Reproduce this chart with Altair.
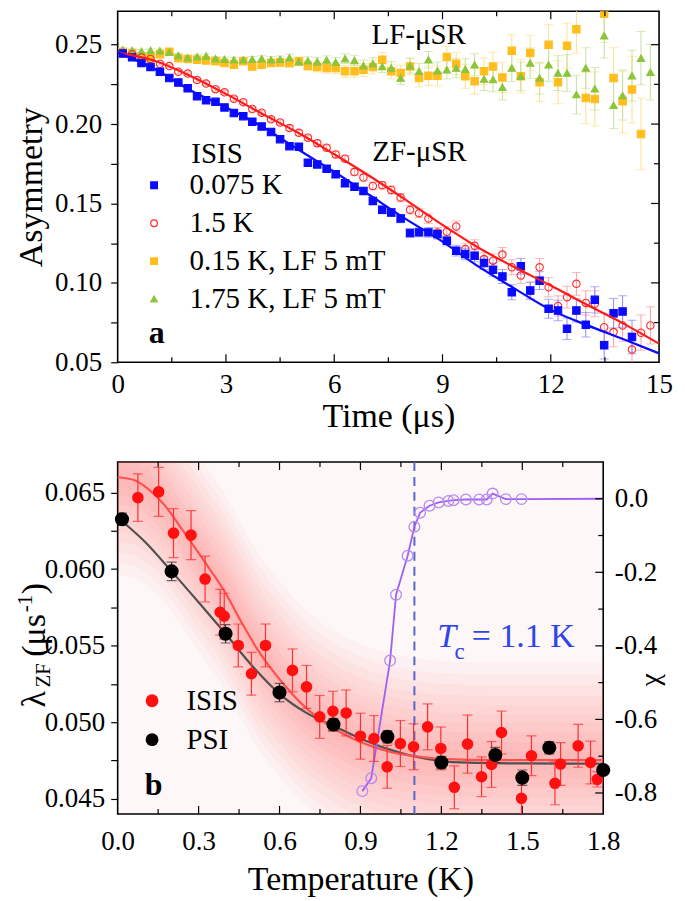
import altair as alt
import pandas as pd

FONT = "Liberation Serif"

# ================= Panel a : asymmetry spectra =================
time_us = [0.14, 0.40, 0.66, 0.91, 1.17, 1.43, 1.68, 1.94, 2.20, 2.45, 2.71, 2.96, 3.22, 3.48, 3.73,
           3.99, 4.25, 4.50, 4.76, 5.02, 5.27, 5.53, 5.79, 6.04, 6.30, 6.56, 6.81, 7.07, 7.33, 7.58,
           7.84, 8.10, 8.35, 8.61, 8.86, 9.12, 9.38, 9.63, 9.89, 10.15, 10.40, 10.66, 10.92, 11.17,
           11.43, 11.69, 11.94, 12.20, 12.45, 12.71, 12.97, 13.22, 13.48, 13.74, 13.99, 14.25, 14.50, 14.76]

asym_0075K = [0.2445, 0.2420, 0.2385, 0.2360, 0.2330, 0.2290, 0.2262, 0.2225, 0.2175, 0.2150, 0.2140,
              0.2105, 0.2070, 0.2050, 0.2015, 0.1985, 0.1950, 0.1905, 0.1861, 0.1857, 0.1757, 0.1746,
              0.1719, 0.1684, 0.1627, 0.1606, 0.1579, 0.1516, 0.1460, 0.1443, 0.1405, 0.1314, 0.1318,
              0.1318, 0.1307, 0.1265, 0.1203, 0.1182, 0.1171, 0.1125, 0.1083, 0.1040, 0.0941, 0.1104,
              0.0952, 0.1014, 0.0837, 0.0826, 0.0711, 0.0826, 0.0736, 0.0893, 0.0607, 0.0809, 0.0820, 0.0659]
err_0075K = [0.0008, 0.0008, 0.0009, 0.0009, 0.0009, 0.0010, 0.0010, 0.0010, 0.0011, 0.0011,
             0.0012, 0.0012, 0.0013, 0.0013, 0.0014, 0.0014, 0.0015, 0.0015, 0.0016, 0.0017,
             0.0017, 0.0018, 0.0019, 0.0020, 0.0020, 0.0021, 0.0022, 0.0023, 0.0024, 0.0025,
             0.0026, 0.0027, 0.0028, 0.0030, 0.0031, 0.0032, 0.0034, 0.0036, 0.0038, 0.0040,
             0.0042, 0.0044, 0.0047, 0.0050, 0.0053, 0.0056, 0.0060, 0.0064, 0.0068, 0.0072,
             0.0077, 0.0082, 0.0087, 0.0093, 0.0099, 0.0105]

asym_15K = [0.2445, 0.2440, 0.2420, 0.2410, 0.2380, 0.2365, 0.2330, 0.2318, 0.2278, 0.2255, 0.2220,
            0.2200, 0.2160, 0.2138, 0.2095, 0.2072, 0.2030, 0.2010, 0.1975, 0.1945, 0.1914, 0.1880,
            0.1851, 0.1809, 0.1782, 0.1698, 0.1663, 0.1610, 0.1615, 0.1585, 0.1537, 0.1460, 0.1439,
            0.1405, 0.1317, 0.1322, 0.1355, 0.1213, 0.1234, 0.1150, 0.1140, 0.1178, 0.1098, 0.1046,
            0.0950, 0.1098, 0.0972, 0.0855, 0.0910, 0.0994, 0.0874, 0.0868, 0.0721, 0.0690, 0.0732,
            0.0580, 0.0686, 0.0732]
err_15K = [0.0008, 0.0008, 0.0009, 0.0009, 0.0009, 0.0010, 0.0010, 0.0010, 0.0011, 0.0011,
           0.0012, 0.0012, 0.0013, 0.0013, 0.0014, 0.0014, 0.0015, 0.0015, 0.0016, 0.0017,
           0.0017, 0.0018, 0.0019, 0.0020, 0.0020, 0.0021, 0.0022, 0.0023, 0.0024, 0.0025,
           0.0026, 0.0027, 0.0028, 0.0030, 0.0031, 0.0032, 0.0034, 0.0036, 0.0038, 0.0040,
           0.0042, 0.0044, 0.0047, 0.0050, 0.0053, 0.0056, 0.0060, 0.0064, 0.0068, 0.0072,
           0.0077, 0.0082, 0.0087, 0.0093, 0.0099, 0.0105, 0.0111, 0.0117]

asym_015K_LF = [0.2455, 0.2446, 0.2425, 0.2415, 0.2440, 0.2455, 0.2415, 0.2410, 0.2405, 0.2400,
                0.2395, 0.2384, 0.2374, 0.2395, 0.2363, 0.2374, 0.2384, 0.2388, 0.2384, 0.2395,
                0.2368, 0.2359, 0.2353, 0.2353, 0.2332, 0.2332, 0.2342, 0.2359, 0.2405, 0.2332,
                0.2321, 0.2363, 0.2290, 0.2305, 0.2305, 0.2422, 0.2380, 0.2301, 0.2269, 0.2332,
                0.2363, 0.2294, 0.2462, 0.2301, 0.2447, 0.2263, 0.2499, 0.2263, 0.2493, 0.2597,
                0.2164, 0.2158, 0.2694, 0.2290, 0.2144, 0.2217, 0.1938]
err_015K_LF = [0.0012, 0.0012, 0.0013, 0.0013, 0.0014, 0.0014, 0.0015, 0.0015, 0.0016, 0.0016,
               0.0017, 0.0018, 0.0019, 0.0020, 0.0021, 0.0022, 0.0023, 0.0024, 0.0026, 0.0028,
               0.0030, 0.0031, 0.0033, 0.0035, 0.0037, 0.0039, 0.0041, 0.0043, 0.0045, 0.0047,
               0.0050, 0.0053, 0.0056, 0.0060, 0.0063, 0.0067, 0.0070, 0.0075, 0.0080, 0.0085,
               0.0090, 0.0095, 0.0100, 0.0106, 0.0112, 0.0120, 0.0127, 0.0135, 0.0142, 0.0150,
               0.0160, 0.0170, 0.0180, 0.0190, 0.0200, 0.0210, 0.0225]

asym_175K_LF = [0.2468, 0.2464, 0.2458, 0.2464, 0.2462, 0.2452, 0.2432, 0.2418, 0.2424, 0.2428,
                0.2412, 0.2408, 0.2405, 0.2405, 0.2408, 0.2412, 0.2405, 0.2408, 0.2418, 0.2393,
                0.2399, 0.2393, 0.2403, 0.2389, 0.2412, 0.2401, 0.2368, 0.2380, 0.2363, 0.2353,
                0.2290, 0.2368, 0.2332, 0.2405, 0.2336, 0.2342, 0.2353, 0.2346, 0.2374, 0.2284,
                0.2280, 0.2232, 0.2353, 0.2301, 0.2384, 0.2290, 0.2374, 0.2321, 0.2321, 0.2186,
                0.2353, 0.2222, 0.2556, 0.2119, 0.2180, 0.2305, 0.2415, 0.2326]
err_175K_LF = [0.0010, 0.0010, 0.0011, 0.0011, 0.0011, 0.0012, 0.0012, 0.0013, 0.0013, 0.0014,
               0.0014, 0.0015, 0.0016, 0.0017, 0.0018, 0.0019, 0.0020, 0.0021, 0.0022, 0.0023,
               0.0025, 0.0026, 0.0028, 0.0030, 0.0031, 0.0033, 0.0035, 0.0037, 0.0039, 0.0041,
               0.0043, 0.0046, 0.0049, 0.0052, 0.0055, 0.0058, 0.0061, 0.0065, 0.0069, 0.0073,
               0.0077, 0.0081, 0.0085, 0.0090, 0.0095, 0.0100, 0.0105, 0.0110, 0.0116, 0.0122,
               0.0128, 0.0134, 0.0140, 0.0147, 0.0154, 0.0160, 0.0168, 0.0175]

fit_time = [0, 1, 2, 3, 4, 5, 6, 7, 8, 9, 10, 11, 12, 13, 14, 15]
fit_0075K = [0.245, 0.235, 0.2215, 0.2105, 0.1985, 0.184, 0.170, 0.155, 0.140, 0.126, 0.1102, 0.0964,
             0.083, 0.0734, 0.0646, 0.0556]
fit_15K = [0.245, 0.240, 0.2305, 0.219, 0.2065, 0.1945, 0.181, 0.167, 0.152, 0.1365, 0.1221, 0.1098,
           0.0983, 0.0862, 0.0745, 0.0617]

series_a = ["0.075 K", "1.5 K", "0.15 K, LF 5 mT", "1.75 K, LF 5 mT"]
stroke_a = ["#0a0aff", "#ff2a2a", "#ffbe1e", "#8cc43a"]
fill_a = ["#0a0aff", "transparent", "#ffbe1e", "#8cc43a"]
shape_a = ["square", "circle", "square", "triangle-up"]
bar_a = ["#8a8aff", "#ff9c9c", "#ffdf8a", "#c4e29a"]

ann_a_text = ["LF-μSR", "ZF-μSR"]
ann_a_t = [8.34, 8.36]
ann_a_v = [0.2506, 0.1770]
isis_a_label = ["ISIS"]
isis_a_t = [2.04]
isis_a_v = [0.1757]
panel_a_label = ["a"]
panel_a_t = [1.08]
panel_a_v = [0.0619]

# ================= Panel b : relaxation rate & susceptibility =================
isis_T = [0.075, 0.152, 0.207, 0.272, 0.324, 0.380, 0.395, 0.447, 0.496, 0.548, 0.648, 0.700, 0.749,
          0.798, 0.847, 0.900, 0.950, 0.999, 1.048, 1.097, 1.149, 1.198, 1.248, 1.297, 1.349, 1.386,
          1.423, 1.497, 1.534, 1.621, 1.642, 1.707, 1.753, 1.778]
isis_lam = [0.06467, 0.06505, 0.06235, 0.06222, 0.05935, 0.05718, 0.05692, 0.05501, 0.05316, 0.05501,
            0.05338, 0.05230, 0.05034, 0.05071, 0.05060, 0.04908, 0.04893, 0.04708, 0.04860, 0.04839,
            0.04969, 0.04828, 0.04574, 0.04856, 0.04643, 0.04723, 0.04932, 0.04502, 0.04780, 0.04600,
            0.04726, 0.04845, 0.04736, 0.04626]
isis_err = [0.00155, 0.0016, 0.0016, 0.0016, 0.0015, 0.0015, 0.0015, 0.0014, 0.0014, 0.0014, 0.0014,
            0.0014, 0.0014, 0.0013, 0.0015, 0.0015, 0.0015, 0.0014, 0.0015, 0.0015, 0.0015, 0.0014,
            0.0014, 0.0019, 0.0013, 0.0015, 0.0014, 0.0014, 0.0013, 0.0014, 0.0014, 0.0014, 0.0014, 0.0005]

psi_T = [0.016, 0.2, 0.4, 0.6, 0.8, 1.0, 1.2, 1.4, 1.5, 1.6, 1.8]
psi_lam = [0.06326, 0.05985, 0.05577, 0.05193, 0.04984, 0.04904, 0.04736, 0.04785, 0.04637, 0.04832, 0.04687]
psi_err = [0.0004, 0.0006, 0.0006, 0.0006, 0.0004, 0.0004, 0.0004, 0.0005, 0.0005, 0.0004, 0.0003]

fitb_isis_T = [0, 0.06, 0.115, 0.176, 0.238, 0.324, 0.398, 0.459, 0.52, 0.6, 0.7, 0.8, 0.9, 1.0, 1.1,
               1.2, 1.4, 1.8]
fitb_isis = [0.0660, 0.06582, 0.06521, 0.06413, 0.06261, 0.06044, 0.05849, 0.05653, 0.0547, 0.0528,
             0.0509, 0.0496, 0.0487, 0.0481, 0.04778, 0.0476, 0.04752, 0.04752]
fitb_psi_T = [0, 0.1, 0.2, 0.3, 0.4, 0.5, 0.6, 0.7, 0.8, 0.9, 1.0, 1.1, 1.2, 1.3, 1.5, 1.8]
fitb_psi = [0.06337, 0.0618, 0.05985, 0.05783, 0.05577, 0.05365, 0.05185, 0.05060, 0.04975, 0.04893,
            0.04825, 0.04775, 0.04745, 0.04735, 0.0473, 0.04728]

chi_T = [0.907, 0.94, 1.01, 1.032, 1.075, 1.100, 1.121, 1.156, 1.19, 1.226, 1.245, 1.291, 1.34, 1.368,
         1.39, 1.439, 1.497]
chi_val = [-0.795, -0.760, -0.440, -0.261, -0.155, -0.076, -0.038, -0.019, -0.010, -0.006, -0.004,
           -0.002, -0.002, -0.002, 0.014, -0.001, -0.001]
chi_line_T = chi_T + [1.8]
chi_line_val = chi_val + [0.0]

tc_value = [1.1]
glow_halfwidths = [0.0006, 0.0012, 0.0018, 0.0024, 0.0030, 0.0036, 0.0042, 0.0049, 0.0056, 0.0064]

tc_pieces = ["T", "c", "= 1.1 K"]
tc_T = [1.2195, 1.2675, 1.313]
tc_lam = [0.05490, 0.05415, 0.05490]
panel_b_label = ["b"]
panel_b_T = [0.133]
panel_b_lam = [0.04526]

# ================= helpers =================
W_A, H_A = 543, 352
W_B, H_B = 487, 353
TICK_FS, TITLE_FS, LEG_FS, ANN_FS = 27, 34, 29, 29

X_A = alt.Scale(domain=[0, 15], nice=False, zero=False)
Y_A = alt.Scale(domain=[0.05, 0.271], nice=False, zero=False)
X_B = alt.Scale(domain=[0, 1.8], nice=False, zero=False)
Y_B = alt.Scale(domain=[0.044, 0.067], nice=False, zero=False)
Y_C = alt.Scale(domain=[-0.857, 0.1], nice=False, zero=False)


def err_layers(df, xs, ys, color, cap, width=1.0, show_axis=True):
    yenc = (lambda f: alt.Y(f, scale=ys)) if show_axis else (lambda f: alt.Y(f, scale=ys, axis=None))
    rule = alt.Chart(df).mark_rule(color=color, strokeWidth=width, clip=True).encode(
        x=alt.X("x:Q", scale=xs), y=yenc("lo:Q"), y2="hi:Q")
    lo = alt.Chart(df).mark_tick(color=color, orient="horizontal", size=cap, thickness=width,
                                 clip=True).encode(x=alt.X("x:Q", scale=xs), y=yenc("lo:Q"))
    hi = alt.Chart(df).mark_tick(color=color, orient="horizontal", size=cap, thickness=width,
                                 clip=True).encode(x=alt.X("x:Q", scale=xs), y=yenc("hi:Q"))
    return [rule, lo, hi]


def xticks(values, xs, length, height, side):
    df = pd.DataFrame({"tv": values})
    y0, y1 = (height, height - length) if side == "bottom" else (0, length)
    return alt.Chart(df).mark_rule(color="black", strokeWidth=1.2).encode(
        x=alt.X("tv:Q", scale=xs), y=alt.value(y0), y2=alt.value(y1))


def yticks(values, ys, length, width):
    df = pd.DataFrame({"tv": values})
    return alt.Chart(df).mark_rule(color="black", strokeWidth=1.2).encode(
        y=alt.Y("tv:Q", scale=ys), x=alt.value(width), x2=alt.value(width - length))


def frame(xs, vals, errs):
    return pd.DataFrame({"x": xs[:len(vals)], "v": vals,
                         "lo": [v - e for v, e in zip(vals, errs)],
                         "hi": [v + e for v, e in zip(vals, errs)]})


# ================= panel a =================
sets_a = [(series_a[2], asym_015K_LF, err_015K_LF, bar_a[2]),
          (series_a[3], asym_175K_LF, err_175K_LF, bar_a[3]),
          (series_a[1], asym_15K, err_15K, bar_a[1]),
          (series_a[0], asym_0075K, err_0075K, bar_a[0])]
layers_a = []
pts_frames = []
for name, vals, errs, bc in sets_a:
    df = frame(time_us, vals, errs)
    layers_a += err_layers(df, X_A, Y_A, bc, 9, 1.0)
    pts_frames.append(df.assign(series=name))
pts_a = pd.concat(pts_frames, ignore_index=True)

legend_a = alt.Legend(orient="none", legendX=22, legendY=160, title=None, labelFont=FONT,
                      labelFontSize=LEG_FS, labelColor="black", symbolSize=45, symbolStrokeWidth=1.2,
                      rowPadding=8, labelOffset=21, labelLimit=400)

y_vals_a = [0.05, 0.075, 0.1, 0.125, 0.15, 0.175, 0.2, 0.225, 0.25]
points_a = alt.Chart(pts_a).mark_point(opacity=1, size=55, strokeWidth=1.1, clip=True).encode(
    x=alt.X("x:Q", scale=X_A, axis=alt.Axis(title="Time (μs)", values=[0, 3, 6, 9, 12, 15], format="d",
                                             ticks=False, domain=False, labelFontSize=TICK_FS,
                                             titleFontSize=TITLE_FS, labelPadding=9, titlePadding=2)),
    y=alt.Y("v:Q", scale=Y_A, axis=alt.Axis(title="Asymmetry", values=y_vals_a, domain=False,
                                             labelExpr="round(datum.value*1000) % 50 == 0 ? format(datum.value, '.2f') : ''",
                                             tickSize=7, tickColor="black", tickWidth=1.2,
                                             labelFontSize=TICK_FS, titleFontSize=TITLE_FS, labelPadding=9,
                                             titlePadding=6)),
    shape=alt.Shape("series:N", scale=alt.Scale(domain=series_a, range=shape_a), legend=legend_a),
    fill=alt.Fill("series:N", scale=alt.Scale(domain=series_a, range=fill_a), legend=legend_a),
    stroke=alt.Stroke("series:N", scale=alt.Scale(domain=series_a, range=stroke_a), legend=legend_a),
)

fit_a_blue = alt.Chart(pd.DataFrame({"x": fit_time, "v": fit_0075K})).mark_line(
    color="#0a0aff", strokeWidth=2.2, interpolate="monotone").encode(
    x=alt.X("x:Q", scale=X_A), y=alt.Y("v:Q", scale=Y_A))
fit_a_red = alt.Chart(pd.DataFrame({"x": fit_time, "v": fit_15K})).mark_line(
    color="#ff1a1a", strokeWidth=2.2, interpolate="monotone").encode(
    x=alt.X("x:Q", scale=X_A), y=alt.Y("v:Q", scale=Y_A))

txt_a = alt.Chart(pd.DataFrame({"x": ann_a_t, "v": ann_a_v, "s": ann_a_text})).mark_text(
    font=FONT, fontSize=ANN_FS, align="center", baseline="alphabetic", color="black").encode(
    x=alt.X("x:Q", scale=X_A), y=alt.Y("v:Q", scale=Y_A), text="s:N")
isis_txt = alt.Chart(pd.DataFrame({"x": isis_a_t, "v": isis_a_v, "s": isis_a_label})).mark_text(
    font=FONT, fontSize=ANN_FS, align="left", baseline="alphabetic", color="black").encode(
    x=alt.X("x:Q", scale=X_A), y=alt.Y("v:Q", scale=Y_A), text="s:N")
lab_a = alt.Chart(pd.DataFrame({"x": panel_a_t, "v": panel_a_v, "s": panel_a_label})).mark_text(
    font=FONT, fontSize=32, fontWeight="bold", align="center", baseline="alphabetic", color="black").encode(
    x=alt.X("x:Q", scale=X_A), y=alt.Y("v:Q", scale=Y_A), text="s:N")

ticks_a = [
    xticks([3, 6, 9, 12], X_A, 8, H_A, "bottom"),
    xticks([1.5, 4.5, 7.5, 10.5, 13.5], X_A, 5, H_A, "bottom"),
    xticks([3, 6, 9, 12], X_A, 8, H_A, "top"),
    xticks([1.5, 4.5, 7.5, 10.5, 13.5], X_A, 5, H_A, "top"),
    yticks([0.1, 0.15, 0.2, 0.25], Y_A, 8, W_A),
    yticks([0.075, 0.125, 0.175, 0.225], Y_A, 5, W_A),
]

panel_a = alt.layer(*layers_a, points_a, fit_a_red, fit_a_blue, *ticks_a, txt_a, isis_txt, lab_a).properties(
    width=W_A, height=H_A, view=alt.ViewBackground(stroke="black", strokeWidth=1.6, fill="white"))

# ================= panel b =================
glow_rows = []
for i, d in enumerate(glow_halfwidths):
    for T, v in zip(fitb_isis_T, fitb_isis):
        glow_rows.append({"x": T, "lo": v - d, "hi": v + d, "band": i})
glow = alt.Chart(pd.DataFrame(glow_rows)).mark_area(
    color="#ff1010", opacity=0.032, interpolate="monotone", clip=True).encode(
    x=alt.X("x:Q", scale=X_B,
            axis=alt.Axis(title="Temperature (K)", values=[0, 0.3, 0.6, 0.9, 1.2, 1.5, 1.8], format=".1f",
                          ticks=False, domain=False, labelFontSize=TICK_FS, titleFontSize=TITLE_FS,
                          labelPadding=15, titlePadding=8)),
    y=alt.Y("lo:Q", scale=Y_B,
            axis=alt.Axis(title=None, values=[0.045, 0.0475, 0.05, 0.0525, 0.055, 0.0575, 0.06, 0.0625, 0.065],
                          labelExpr="round(datum.value*10000) % 50 == 0 ? format(datum.value, '.3f') : ''",
                          domain=False, tickSize=7, tickColor="black", tickWidth=1.2, labelFontSize=TICK_FS,
                          labelPadding=6)),
    y2="hi:Q", detail="band:N")

fitb_red = alt.Chart(pd.DataFrame({"x": fitb_isis_T, "v": fitb_isis})).mark_line(
    color="#ff5050", strokeWidth=2.2, interpolate="monotone").encode(
    x=alt.X("x:Q", scale=X_B), y=alt.Y("v:Q", scale=Y_B))
fitb_black = alt.Chart(pd.DataFrame({"x": fitb_psi_T, "v": fitb_psi})).mark_line(
    color="#505050", strokeWidth=2.2, interpolate="monotone").encode(
    x=alt.X("x:Q", scale=X_B), y=alt.Y("v:Q", scale=Y_B))
tc_rule = alt.Chart(pd.DataFrame({"x": tc_value})).mark_rule(
    color="#5a66cc", strokeWidth=2, strokeDash=[9, 6]).encode(x=alt.X("x:Q", scale=X_B))

ticks_b = [
    xticks([0.3, 0.6, 0.9, 1.2, 1.5], X_B, 8, H_B, "bottom"),
    xticks([0.15, 0.45, 0.75, 1.05, 1.35, 1.65], X_B, 5, H_B, "bottom"),
    xticks([0.3, 0.6, 0.9, 1.2, 1.5], X_B, 8, H_B, "top"),
    xticks([0.15, 0.45, 0.75, 1.05, 1.35, 1.65], X_B, 5, H_B, "top"),
]

# y-axis title  λ_ZF (μs^-1)  built from rotated text pieces
title_pieces = [("λ", -83, 238, 34), ("ZF", -74, 214, 21), ("(μs", -83, 174, 34),
                ("-1", -92, 142, 21), (")", -83, 127, 34)]
title_layers = []
for s, px, py, fs in title_pieces:
    title_layers.append(alt.Chart(alt.Data(values=[{}])).mark_text(
        font=FONT, fontSize=fs, angle=270, align="center", baseline="middle", color="black").encode(
        x=alt.value(px), y=alt.value(py), text=alt.value(s)))

left_bg = alt.layer(glow, fitb_black, fitb_red, tc_rule, *ticks_b, *title_layers)

chi_line = alt.Chart(pd.DataFrame({"x": chi_line_T, "c": chi_line_val})).mark_line(
    color="#a05ff0", strokeWidth=1.8).encode(
    x=alt.X("x:Q", scale=X_B),
    y=alt.Y("c:Q", scale=Y_C,
            axis=alt.Axis(orient="right", title="χ", values=[-0.8, -0.6, -0.4, -0.2, 0.0],
                          labelExpr="(datum.value < 0 ? '-' : '') + format(abs(datum.value), '.1f')",
                          ticks=False, domain=False, labelFontSize=TICK_FS, titleFontSize=28,
                          labelPadding=11, titleAngle=90, titleX=56, titleY=218,
                          titleAlign="center", titleBaseline="middle")))
chi_pts = alt.Chart(pd.DataFrame({"x": chi_T, "c": chi_val})).mark_point(
    shape="circle", size=115, filled=False, color="#b58af2", strokeWidth=1.3, opacity=1).encode(
    x=alt.X("x:Q", scale=X_B), y=alt.Y("c:Q", scale=Y_C))
chi_ticks = [yticks([-0.8, -0.6, -0.4, -0.2, 0.0], Y_C, 8, W_B),
             yticks([-0.7, -0.5, -0.3, -0.1], Y_C, 5, W_B)]
right_grp = alt.layer(chi_line, chi_pts, *chi_ticks)

df_isis = frame(isis_T, isis_lam, isis_err).assign(series="ISIS")
df_psi = frame(psi_T, psi_lam, psi_err).assign(series="PSI")
err_b = err_layers(df_isis, X_B, Y_B, "#ff3030", 10, 1.2, show_axis=False) + \
        err_layers(df_psi, X_B, Y_B, "#303030", 10, 1.2, show_axis=False)

# legends of concatenated views are placed in the top-level frame
legend_b = alt.Legend(orient="none", legendX=20, legendY=677, title=None, labelFont=FONT,
                      labelFontSize=LEG_FS, labelColor="black", symbolSize=165, rowPadding=9,
                      labelOffset=20, symbolType="circle")
color_b = alt.Scale(domain=["ISIS", "PSI"], range=["#ff1010", "#000000"])
isis_pts = alt.Chart(df_isis).mark_circle(size=135, opacity=1).encode(
    x=alt.X("x:Q", scale=X_B), y=alt.Y("v:Q", scale=Y_B, axis=None),
    color=alt.Color("series:N", scale=color_b, legend=legend_b))
psi_pts = alt.Chart(df_psi).mark_circle(size=200, opacity=1).encode(
    x=alt.X("x:Q", scale=X_B), y=alt.Y("v:Q", scale=Y_B, axis=None),
    color=alt.Color("series:N", scale=color_b, legend=legend_b))

tc_df = pd.DataFrame({"x": tc_T, "v": tc_lam, "s": tc_pieces})
TC_COLOR = "#2f45ea"
tc_T_txt = alt.Chart(tc_df.iloc[[0]]).mark_text(
    font=FONT, fontSize=34, fontStyle="italic", align="center", baseline="alphabetic", color=TC_COLOR).encode(
    x=alt.X("x:Q", scale=X_B), y=alt.Y("v:Q", scale=Y_B, axis=None), text="s:N")
tc_c_txt = alt.Chart(tc_df.iloc[[1]]).mark_text(
    font=FONT, fontSize=23, align="center", baseline="alphabetic", color=TC_COLOR).encode(
    x=alt.X("x:Q", scale=X_B), y=alt.Y("v:Q", scale=Y_B, axis=None), text="s:N")
tc_rest_txt = alt.Chart(tc_df.iloc[[2]]).mark_text(
    font=FONT, fontSize=34, align="left", baseline="alphabetic", color=TC_COLOR).encode(
    x=alt.X("x:Q", scale=X_B), y=alt.Y("v:Q", scale=Y_B, axis=None), text="s:N")
lab_b = alt.Chart(pd.DataFrame({"x": panel_b_T, "v": panel_b_lam, "s": panel_b_label})).mark_text(
    font=FONT, fontSize=32, fontWeight="bold", align="center", baseline="alphabetic", color="black").encode(
    x=alt.X("x:Q", scale=X_B), y=alt.Y("v:Q", scale=Y_B, axis=None), text="s:N")

left_fg = alt.layer(*err_b, isis_pts, psi_pts, tc_T_txt, tc_c_txt, tc_rest_txt, lab_b)

panel_b = alt.layer(left_bg, right_grp, left_fg).resolve_scale(y="independent").properties(
    width=W_B, height=H_B, view=alt.ViewBackground(stroke="black", strokeWidth=1.6, fill="#fdf7f7"))

chart = alt.vconcat(panel_a, panel_b, spacing=100, bounds="flush").properties(
    padding={"left": 5, "top": 0, "right": 3, "bottom": 2}
).configure_axis(labelFont=FONT, titleFont=FONT, labelColor="black", titleColor="black", grid=False,
                 titleFontWeight="normal", labelFlush=False)

chart.save("out.html", embed_options={"renderer": "svg", "actions": False})
